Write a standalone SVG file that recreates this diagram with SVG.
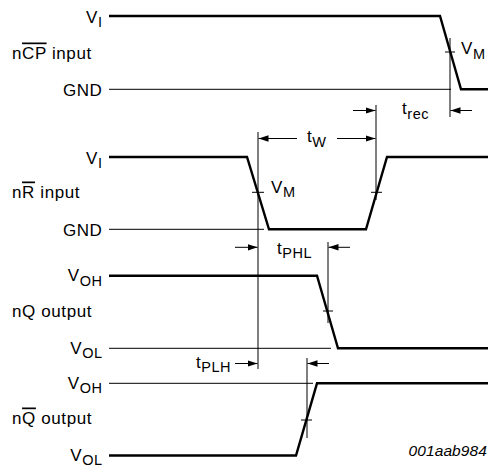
<svg xmlns="http://www.w3.org/2000/svg" width="488" height="470" viewBox="0 0 488 470">
<defs>
<marker id="ah" markerUnits="userSpaceOnUse" markerWidth="11" markerHeight="7" refX="10" refY="3.25" orient="auto">
<path d="M0,0 L10,3.25 L0,6.5 z" fill="#000"/>
</marker>
<style>
.sig{fill:none;stroke:#000;stroke-width:2.4;stroke-linejoin:miter}
.ref{fill:none;stroke:#000;stroke-width:1}
.dim{fill:none;stroke:#000;stroke-width:1}
.arr{fill:none;stroke:#000;stroke-width:1;marker-end:url(#ah)}
text{font-family:"Liberation Sans",Arial,Helvetica,sans-serif;font-size:17px;letter-spacing:0.6px;fill:#000}
.sub{font-size:14.5px;letter-spacing:0.5px}
.lbl{text-anchor:end}
.ov{text-decoration:overline}
.fn{font-style:italic;font-size:15.5px;letter-spacing:0.1px;text-anchor:end}
</style>
</defs>
<rect width="488" height="470" fill="#fff"/>

<g id="sig-ncp">
<text class="lbl" x="102.5" y="22.5">V<tspan class="sub" dy="4">I</tspan></text>
<text x="12" y="58.5">n<tspan class="ov">CP</tspan> input</text>
<text class="lbl" x="102.5" y="95.5">GND</text>
<line class="ref" x1="109" y1="89.3" x2="451" y2="89.3"/>
<polyline class="sig" points="109,16 440,16 461,89.3 488,89.3"/>
<text x="461" y="54">V<tspan class="sub" dy="4.5">M</tspan></text>
</g>

<g id="sig-nr">
<text class="lbl" x="102.5" y="163.5">V<tspan class="sub" dy="4">I</tspan></text>
<text x="12" y="197.5">n<tspan class="ov">R</tspan> input</text>
<text class="lbl" x="102.5" y="235.5">GND</text>
<line class="ref" x1="109" y1="229.3" x2="264" y2="229.3"/>
<polyline class="sig" points="109,157 247,157 269,229.3 366,229.3 387,157 488,157"/>
<text x="271" y="192.5">V<tspan class="sub" dy="4.5">M</tspan></text>
</g>

<g id="sig-nq">
<text class="lbl" x="102.5" y="281">V<tspan class="sub" dy="4.5">OH</tspan></text>
<text x="12" y="317">nQ output</text>
<text class="lbl" x="102.5" y="353.5">V<tspan class="sub" dy="4.5">OL</tspan></text>
<line class="ref" x1="109" y1="348.3" x2="331" y2="348.3"/>
<polyline class="sig" points="109,275.7 317,275.7 338,348.3 488,348.3"/>
</g>

<g id="sig-nqbar">
<text class="lbl" x="102.5" y="388.5">V<tspan class="sub" dy="4.5">OH</tspan></text>
<text x="12" y="423.5">n<tspan class="ov">Q</tspan> output</text>
<text class="lbl" x="102.5" y="460.5">V<tspan class="sub" dy="4.5">OL</tspan></text>
<line class="ref" x1="109" y1="383.3" x2="313" y2="383.3"/>
<polyline class="sig" points="109,455.5 296,455.5 317,383.3 488,383.3"/>
</g>

<g id="connectors">
<line class="dim" x1="450" y1="38" x2="450" y2="117"/>
<line class="dim" x1="376" y1="105" x2="376" y2="200"/>
<line class="dim" x1="258" y1="132" x2="258" y2="369"/>
<line class="dim" x1="328" y1="242" x2="328" y2="323"/>
<line class="dim" x1="307" y1="358" x2="307" y2="438"/>
<line class="dim" x1="445" y1="52" x2="455" y2="52"/>
<line class="dim" x1="252" y1="192.3" x2="264" y2="192.3"/>
<line class="dim" x1="371" y1="192.3" x2="382" y2="192.3"/>
<line class="dim" x1="323" y1="311" x2="333" y2="311"/>
<line class="dim" x1="301" y1="420" x2="312" y2="420"/>
<line class="arr" x1="353" y1="110.5" x2="375.5" y2="110.5"/>
<line class="arr" x1="472" y1="110.5" x2="450.5" y2="110.5"/>
<line class="arr" x1="297" y1="138.5" x2="258.5" y2="138.5"/>
<line class="arr" x1="337" y1="138.5" x2="375.5" y2="138.5"/>
<line class="arr" x1="235" y1="247.3" x2="257.5" y2="247.3"/>
<line class="arr" x1="350" y1="247.3" x2="328.5" y2="247.3"/>
<line class="arr" x1="235" y1="363.5" x2="257.5" y2="363.5"/>
<line class="arr" x1="329" y1="363.5" x2="307.5" y2="363.5"/>
<text x="402" y="114">t<tspan class="sub" dy="4.5">rec</tspan></text>
<text x="307" y="142">t<tspan class="sub" dy="4.5">W</tspan></text>
<text x="277" y="253.5">t<tspan class="sub" dy="4.5">PHL</tspan></text>
<text x="196" y="367.5">t<tspan class="sub" dy="4.5">PLH</tspan></text>
</g>

<text class="fn" x="487" y="456">001aab984</text>
</svg>
